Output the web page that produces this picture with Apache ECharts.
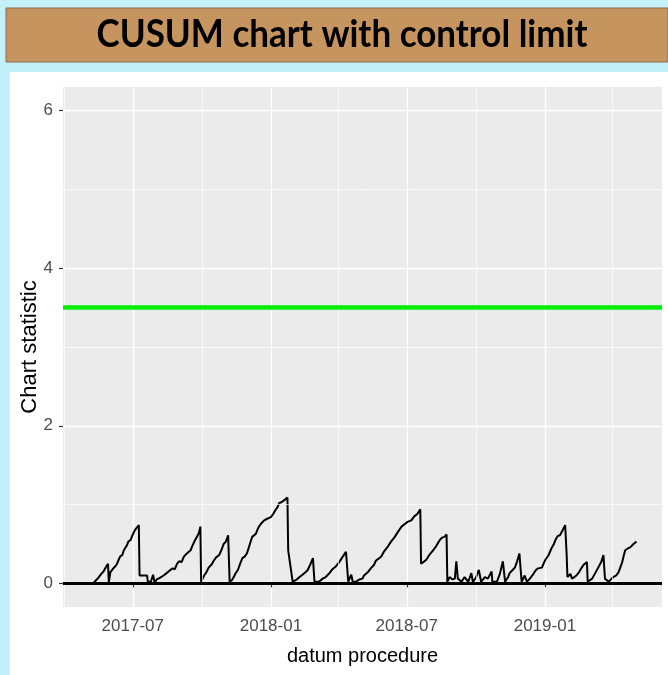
<!DOCTYPE html>
<html><head><meta charset="utf-8">
<script src="https://cdn.jsdelivr.net/npm/echarts@6/dist/echarts.min.js"></script>
<style>html,body{margin:0;padding:0;background:#c4f1f9}#c{width:668px;height:675px}</style>
</head><body><div id="c"></div>
<script>
const titleText = 'CUSUM chart with control limit';
const xTitle = 'datum procedure';
const yTitle = 'Chart statistic';
const xTickDates = ['2017-07-01','2018-01-01','2018-07-01','2019-01-01'];
const xMinorDates = ['2017-04-01','2017-10-01','2018-04-01','2018-10-01','2019-04-01'];
const yTicks = [0, 2, 4, 6];
const yMinor = [1, 3, 5];
const controlLimit = 3.5;
const baseline = 0;

const dates = [
'2017-05-09','2017-05-13','2017-05-16','2017-05-18','2017-05-20','2017-05-23','2017-05-24','2017-05-27','2017-05-29','2017-05-30',
'2017-06-01','2017-06-03','2017-06-05','2017-06-08','2017-06-10','2017-06-12','2017-06-14','2017-06-17','2017-06-19','2017-06-21',
'2017-06-23','2017-06-25','2017-06-28','2017-06-30','2017-07-02','2017-07-04','2017-07-06','2017-07-09','2017-07-10','2017-07-20',
'2017-07-21','2017-07-25','2017-07-28','2017-07-30','2017-08-02','2017-08-06','2017-08-08','2017-08-11','2017-08-15','2017-08-20',
'2017-08-23','2017-08-26','2017-08-29','2017-09-01','2017-09-04','2017-09-07','2017-09-11','2017-09-16','2017-09-18','2017-09-20',
'2017-09-22','2017-09-25','2017-09-27','2017-09-29','2017-09-30','2017-10-04','2017-10-07','2017-10-10','2017-10-14','2017-10-17',
'2017-10-20','2017-10-24','2017-10-27','2017-10-30','2017-11-02','2017-11-05','2017-11-07','2017-11-10','2017-11-13','2017-11-15',
'2017-11-18','2017-11-21','2017-11-24','2017-11-27','2017-11-30','2017-12-04','2017-12-07','2017-12-12','2017-12-14','2017-12-16',
'2017-12-19','2017-12-23','2017-12-27','2018-01-01','2018-01-04','2018-01-07','2018-01-10','2018-01-12','2018-01-15','2018-01-18',
'2018-01-23','2018-01-24','2018-01-26','2018-01-30','2018-02-03','2018-02-07','2018-02-12','2018-02-16','2018-02-19','2018-02-22',
'2018-02-26','2018-02-28','2018-03-06','2018-03-11','2018-03-15','2018-03-20','2018-03-24','2018-03-28','2018-04-02','2018-04-06',
'2018-04-11','2018-04-12','2018-04-14','2018-04-16','2018-04-18','2018-04-20','2018-04-24','2018-04-29','2018-05-03','2018-05-05',
'2018-05-10','2018-05-14','2018-05-18','2018-05-21','2018-05-24','2018-05-28','2018-06-01','2018-06-06','2018-06-10','2018-06-15',
'2018-06-19','2018-06-24','2018-06-28','2018-07-02','2018-07-07','2018-07-11','2018-07-15','2018-07-19','2018-07-20','2018-07-23',
'2018-07-27','2018-07-31','2018-08-05','2018-08-09','2018-08-14','2018-08-17','2018-08-20','2018-08-23','2018-08-24','2018-08-27',
'2018-08-31','2018-09-03','2018-09-05','2018-09-07','2018-09-12','2018-09-16','2018-09-21','2018-09-25','2018-09-27','2018-10-01',
'2018-10-05','2018-10-08','2018-10-13','2018-10-17','2018-10-22','2018-10-23','2018-10-29','2018-11-02','2018-11-06','2018-11-09',
'2018-11-13','2018-11-15','2018-11-19','2018-11-22','2018-11-25','2018-11-28','2018-12-01','2018-12-05','2018-12-08','2018-12-12',
'2018-12-16','2018-12-20','2018-12-23','2018-12-28','2019-01-01','2019-01-06','2019-01-10','2019-01-13','2019-01-15','2019-01-18',
'2019-01-21','2019-01-25','2019-01-28','2019-01-30','2019-01-31','2019-02-04','2019-02-06','2019-02-09','2019-02-12','2019-02-16',
'2019-02-19','2019-02-22','2019-02-26','2019-02-27','2019-03-05','2019-03-09','2019-03-13','2019-03-17','2019-03-20','2019-03-22',
'2019-03-27','2019-03-30','2019-04-02','2019-04-06','2019-04-09','2019-04-11','2019-04-14','2019-04-16','2019-04-18','2019-04-21',
'2019-04-25','2019-04-29','2019-05-03'
];
const cusum = [
0,0.04,0.07,0.05,0.12,0.15,0.13,0.22,0.25,0.01,
0.14,0.12,0.19,0.22,0.25,0.24,0.34,0.36,0.42,0.41,
0.48,0.53,0.55,0.60,0.61,0.68,0.70,0.74,0.10,0.10,
0.02,0.02,0.11,0.01,0.05,0.07,0.06,0.10,0.13,0.17,
0.19,0.18,0.25,0.28,0.27,0.34,0.38,0.42,0.47,0.46,
0.55,0.60,0.64,0.72,0.02,0.10,0.14,0.20,0.24,0.29,
0.33,0.36,0.42,0.50,0.53,0.61,0.02,0.04,0.09,0.13,
0.17,0.25,0.32,0.34,0.38,0.50,0.59,0.63,0.68,0.72,
0.76,0.80,0.82,0.84,0.88,0.93,0.97,1.02,1.03,1.05,
1.09,0.42,0.40,0.02,0.04,0.07,0.11,0.14,0.17,0.23,
0.32,0.02,0.02,0.06,0.08,0.13,0.18,0.21,0.27,0.33,
0.40,0.42,0.02,0.04,0.11,0.02,0.02,0.05,0.06,0.10,
0.14,0.19,0.23,0.29,0.31,0.34,0.41,0.47,0.53,0.59,
0.65,0.72,0.75,0.78,0.80,0.85,0.88,0.94,0.25,0.27,
0.30,0.36,0.42,0.47,0.55,0.58,0.59,0.62,0.02,0.08,
0.05,0.06,0.28,0.06,0.02,0.08,0.02,0.13,0.02,0.07,
0.17,0.02,0.08,0.06,0.15,0.02,0.02,0.12,0.28,0.02,
0.08,0.13,0.17,0.20,0.28,0.38,0.02,0.10,0.02,0.06,
0.11,0.17,0.19,0.20,0.29,0.36,0.45,0.50,0.55,0.60,
0.61,0.68,0.74,0.36,0.08,0.12,0.06,0.08,0.10,0.15,
0.20,0.24,0.27,0.02,0.06,0.13,0.20,0.27,0.36,0.06,
0.02,0.05,0.08,0.10,0.14,0.19,0.27,0.35,0.42,0.44,
0.46,0.50,0.53
];

const pd = s => echarts.number.parseDate(s).getTime();
const xTickTs = xTickDates.map(pd);
const FONT = 'Liberation Sans, Arial, sans-serif';

const chart = echarts.init(document.getElementById('c'), null, {renderer: 'canvas'});
chart.setOption({
  animation: false,
  backgroundColor: '#c4f1f9',
  graphic: [
    {type: 'rect', z: -10, shape: {x: 6, y: 8, width: 662, height: 54}, style: {fill: '#c6955f', stroke: '#8a6a4a', lineWidth: 1}},
    {type: 'rect', z: -10, shape: {x: 10, y: 72, width: 658, height: 603}, style: {fill: '#ffffff'}},
    {type: 'text', z: 10, x: 342, y: 35, scaleY: 1.1,
     style: {text: titleText, font: 'bold 35px Lato', fill: '#000', align: 'center', verticalAlign: 'middle'}}
  ],
  grid: {left: 63, right: 6, top: 87, bottom: 68, show: true, backgroundColor: '#ebebeb', borderWidth: 0, z: 0},
  xAxis: {
    type: 'time', min: '2017-03-30', max: '2019-06-06',
    name: xTitle, nameLocation: 'middle', nameGap: 39,
    nameTextStyle: {color: '#000', fontSize: 20, fontFamily: FONT},
    axisLine: {show: false},
    axisTick: {show: true, customValues: xTickTs, length: 4, lineStyle: {color: '#333', width: 1.2}},
    axisLabel: {customValues: xTickTs, formatter: '{yyyy}-{MM}', color: '#4d4d4d', fontSize: 17, margin: 11,
      fontFamily: FONT},
    splitLine: {show: true, lineStyle: {color: '#ffffff', width: 1.3}}
  },
  yAxis: {
    type: 'value', min: -0.3, max: 6.3,
    name: yTitle, nameLocation: 'middle', nameGap: 22, nameRotate: 90, nameMoveOverlap: false,
    nameTextStyle: {color: '#000', fontSize: 22, fontFamily: FONT},
    axisLine: {show: false},
    axisTick: {show: true, customValues: yTicks, length: 4, lineStyle: {color: '#333', width: 1.2}},
    axisLabel: {customValues: yTicks, color: '#4d4d4d', fontSize: 17, margin: 10,
      fontFamily: FONT},
    splitLine: {show: true, lineStyle: {color: '#ffffff', width: 1.3}}
  },
  series: [
    {
      type: 'line', data: [], z: 1, silent: true,
      markLine: {
        silent: true, symbol: 'none', label: {show: false}, animation: false,
        lineStyle: {color: '#ffffff', width: 0.7, type: 'solid'},
        emphasis: {disabled: true},
        data: xMinorDates.map(d => ({xAxis: d})).concat(yMinor.map(v => ({yAxis: v})))
      }
    },
    {
      type: 'line', z: 3, silent: true,
      data: dates.map((d, i) => [d, cusum[i]]),
      showSymbol: false, symbol: 'none',
      lineStyle: {color: '#000', width: 2},
      markLine: {
        silent: true, symbol: 'none', label: {show: false}, animation: false,
        emphasis: {disabled: true},
        data: [
          {yAxis: controlLimit, lineStyle: {color: '#00ee00', width: 4.5, type: 'solid'}},
          {yAxis: baseline, lineStyle: {color: '#000000', width: 2.8, type: 'solid'}}
        ]
      }
    }
  ]
});
</script>
</body></html>
